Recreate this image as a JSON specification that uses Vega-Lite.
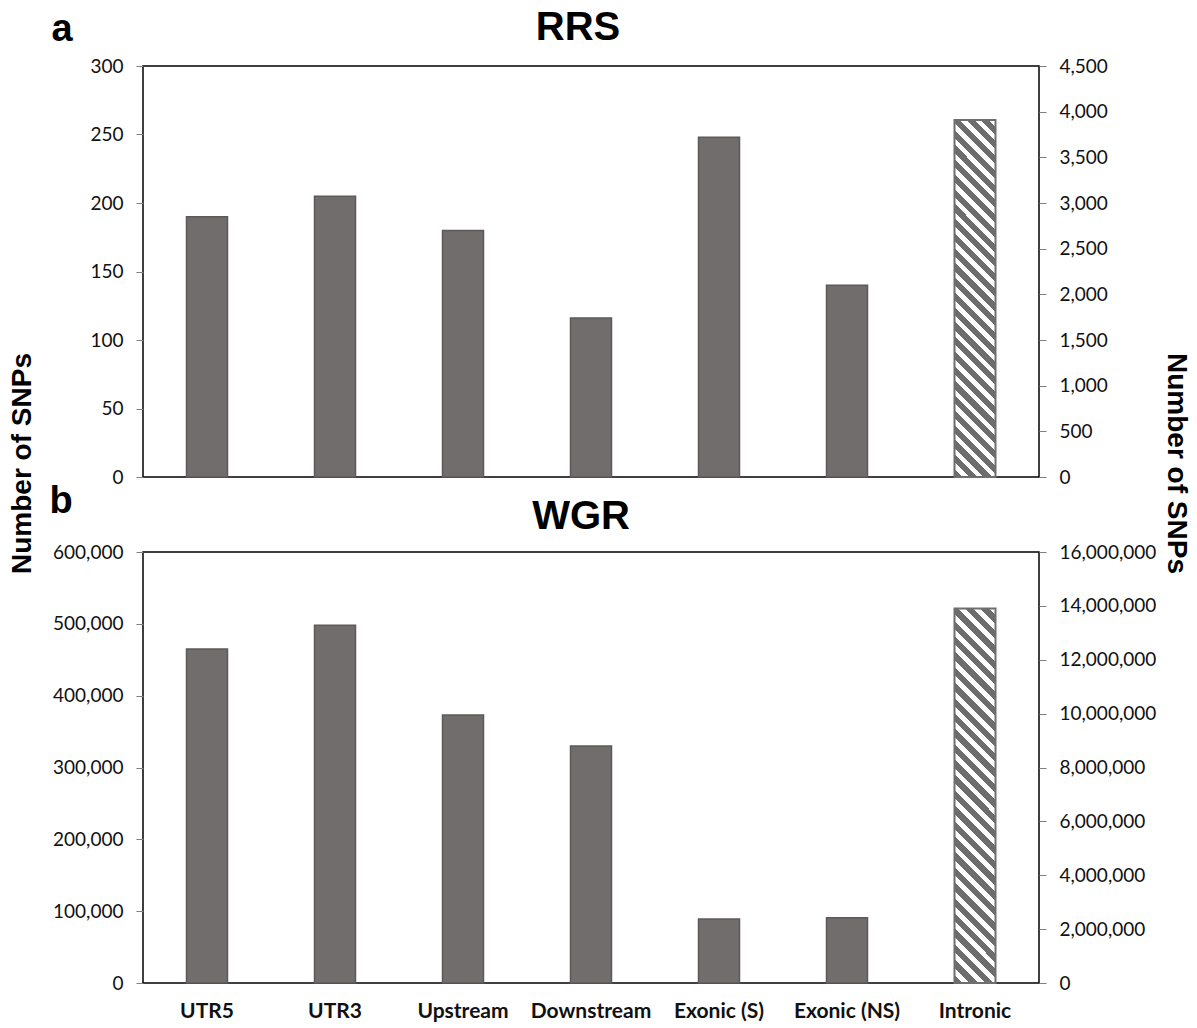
{
  "$schema": "https://vega.github.io/schema/vega-lite/v6.json",
  "background": "white",
  "padding": {"left": 7, "top": 7, "right": 5, "bottom": 5},
  "bounds": "flush",
  "spacing": 75,
  "config": {
    "view": {"stroke": "#000000", "strokeWidth": 1.5},
    "axis": {"labelFont": "Lato", "labelFontSize": 19, "labelColor": "#111111", "tickColor": "#808080", "tickSize": 7, "domain": false, "grid": false, "titleFont": "Liberation Sans", "titleFontWeight": "bold", "titleColor": "#000000"}
  },
  "datasets": {
    "rrs": [
      {"category": "UTR5", "value": 190},
      {"category": "UTR3", "value": 205},
      {"category": "Upstream", "value": 180},
      {"category": "Downstream", "value": 116},
      {"category": "Exonic (S)", "value": 248},
      {"category": "Exonic (NS)", "value": 140},
      {"category": "Intronic", "value": 3910}
    ],
    "wgr": [
      {"category": "UTR5", "value": 465000},
      {"category": "UTR3", "value": 498000},
      {"category": "Upstream", "value": 373000},
      {"category": "Downstream", "value": 330000},
      {"category": "Exonic (S)", "value": 89000},
      {"category": "Exonic (NS)", "value": 91000},
      {"category": "Intronic", "value": 13900000}
    ]
  },
  "vconcat": [
    {
      "width": 896,
      "height": 411,
      "title": {"text": "RRS", "font": "Liberation Sans", "fontSize": 40, "fontWeight": "bold", "anchor": "middle", "baseline": "alphabetic", "offset": 24, "dy": 94, "dx": -13, "color": "#000000"},
      "data": {"name": "rrs"},
      "encoding": {
        "x": {"field": "category", "type": "nominal", "sort": null,
          "scale": {"domain": ["UTR5", "UTR3", "Upstream", "Downstream", "Exonic (S)", "Exonic (NS)", "Intronic"], "paddingInner": 0, "paddingOuter": 0},
          "axis": {"labels": false, "ticks": false, "title": "a", "titleX": -92, "titleY": -437, "titleAlign": "left", "titleBaseline": "alphabetic", "titleFontSize": 38, "titleAngle": 0}}
      },
      "layer": [
        {
          "transform": [{"filter": "datum.category !== 'Intronic'"}],
          "mark": {"type": "bar", "width": 41, "fill": "#716d6c", "stroke": "#5d5a59", "strokeWidth": 1.5},
          "encoding": {
            "y": {"field": "value", "type": "quantitative", "scale": {"domain": [0, 300], "nice": false},
              "axis": {"orient": "left", "values": [0, 50, 100, 150, 200, 250, 300], "format": ",.0f", "labelPadding": 13, "title": "Number of SNPs", "titleAngle": -90, "titleX": -113, "titleY": 397, "titleAlign": "center", "titleBaseline": "alphabetic", "titleFontSize": 28}}
          }
        },
        {
          "transform": [{"filter": "datum.category === 'Intronic'"}],
          "mark": {"type": "bar", "width": 41, "stroke": "#6e6e6e", "strokeWidth": 2,
            "fill": {"gradient": "linear", "x1": 0, "y1": 1, "x2": 0.1264, "y2": -0.1003, "stops": [
              {"offset": 0, "color": "#6d6d6d"}, {"offset": 0.0204, "color": "#6d6d6d"}, {"offset": 0.0204, "color": "#ffffff"}, {"offset": 0.037, "color": "#ffffff"},
              {"offset": 0.037, "color": "#6d6d6d"}, {"offset": 0.0574, "color": "#6d6d6d"}, {"offset": 0.0574, "color": "#ffffff"}, {"offset": 0.0741, "color": "#ffffff"},
              {"offset": 0.0741, "color": "#6d6d6d"}, {"offset": 0.0944, "color": "#6d6d6d"}, {"offset": 0.0944, "color": "#ffffff"}, {"offset": 0.1111, "color": "#ffffff"},
              {"offset": 0.1111, "color": "#6d6d6d"}, {"offset": 0.1315, "color": "#6d6d6d"}, {"offset": 0.1315, "color": "#ffffff"}, {"offset": 0.1481, "color": "#ffffff"},
              {"offset": 0.1481, "color": "#6d6d6d"}, {"offset": 0.1685, "color": "#6d6d6d"}, {"offset": 0.1685, "color": "#ffffff"}, {"offset": 0.1852, "color": "#ffffff"},
              {"offset": 0.1852, "color": "#6d6d6d"}, {"offset": 0.2056, "color": "#6d6d6d"}, {"offset": 0.2056, "color": "#ffffff"}, {"offset": 0.2222, "color": "#ffffff"},
              {"offset": 0.2222, "color": "#6d6d6d"}, {"offset": 0.2426, "color": "#6d6d6d"}, {"offset": 0.2426, "color": "#ffffff"}, {"offset": 0.2593, "color": "#ffffff"},
              {"offset": 0.2593, "color": "#6d6d6d"}, {"offset": 0.2796, "color": "#6d6d6d"}, {"offset": 0.2796, "color": "#ffffff"}, {"offset": 0.2963, "color": "#ffffff"},
              {"offset": 0.2963, "color": "#6d6d6d"}, {"offset": 0.3167, "color": "#6d6d6d"}, {"offset": 0.3167, "color": "#ffffff"}, {"offset": 0.3333, "color": "#ffffff"},
              {"offset": 0.3333, "color": "#6d6d6d"}, {"offset": 0.3537, "color": "#6d6d6d"}, {"offset": 0.3537, "color": "#ffffff"}, {"offset": 0.3704, "color": "#ffffff"},
              {"offset": 0.3704, "color": "#6d6d6d"}, {"offset": 0.3907, "color": "#6d6d6d"}, {"offset": 0.3907, "color": "#ffffff"}, {"offset": 0.4074, "color": "#ffffff"},
              {"offset": 0.4074, "color": "#6d6d6d"}, {"offset": 0.4278, "color": "#6d6d6d"}, {"offset": 0.4278, "color": "#ffffff"}, {"offset": 0.4444, "color": "#ffffff"},
              {"offset": 0.4444, "color": "#6d6d6d"}, {"offset": 0.4648, "color": "#6d6d6d"}, {"offset": 0.4648, "color": "#ffffff"}, {"offset": 0.4815, "color": "#ffffff"},
              {"offset": 0.4815, "color": "#6d6d6d"}, {"offset": 0.5019, "color": "#6d6d6d"}, {"offset": 0.5019, "color": "#ffffff"}, {"offset": 0.5185, "color": "#ffffff"},
              {"offset": 0.5185, "color": "#6d6d6d"}, {"offset": 0.5389, "color": "#6d6d6d"}, {"offset": 0.5389, "color": "#ffffff"}, {"offset": 0.5556, "color": "#ffffff"},
              {"offset": 0.5556, "color": "#6d6d6d"}, {"offset": 0.5759, "color": "#6d6d6d"}, {"offset": 0.5759, "color": "#ffffff"}, {"offset": 0.5926, "color": "#ffffff"},
              {"offset": 0.5926, "color": "#6d6d6d"}, {"offset": 0.613, "color": "#6d6d6d"}, {"offset": 0.613, "color": "#ffffff"}, {"offset": 0.6296, "color": "#ffffff"},
              {"offset": 0.6296, "color": "#6d6d6d"}, {"offset": 0.65, "color": "#6d6d6d"}, {"offset": 0.65, "color": "#ffffff"}, {"offset": 0.6667, "color": "#ffffff"},
              {"offset": 0.6667, "color": "#6d6d6d"}, {"offset": 0.687, "color": "#6d6d6d"}, {"offset": 0.687, "color": "#ffffff"}, {"offset": 0.7037, "color": "#ffffff"},
              {"offset": 0.7037, "color": "#6d6d6d"}, {"offset": 0.7241, "color": "#6d6d6d"}, {"offset": 0.7241, "color": "#ffffff"}, {"offset": 0.7407, "color": "#ffffff"},
              {"offset": 0.7407, "color": "#6d6d6d"}, {"offset": 0.7611, "color": "#6d6d6d"}, {"offset": 0.7611, "color": "#ffffff"}, {"offset": 0.7778, "color": "#ffffff"},
              {"offset": 0.7778, "color": "#6d6d6d"}, {"offset": 0.7981, "color": "#6d6d6d"}, {"offset": 0.7981, "color": "#ffffff"}, {"offset": 0.8148, "color": "#ffffff"},
              {"offset": 0.8148, "color": "#6d6d6d"}, {"offset": 0.8352, "color": "#6d6d6d"}, {"offset": 0.8352, "color": "#ffffff"}, {"offset": 0.8519, "color": "#ffffff"},
              {"offset": 0.8519, "color": "#6d6d6d"}, {"offset": 0.8722, "color": "#6d6d6d"}, {"offset": 0.8722, "color": "#ffffff"}, {"offset": 0.8889, "color": "#ffffff"},
              {"offset": 0.8889, "color": "#6d6d6d"}, {"offset": 0.9093, "color": "#6d6d6d"}, {"offset": 0.9093, "color": "#ffffff"}, {"offset": 0.9259, "color": "#ffffff"},
              {"offset": 0.9259, "color": "#6d6d6d"}, {"offset": 0.9463, "color": "#6d6d6d"}, {"offset": 0.9463, "color": "#ffffff"}, {"offset": 0.963, "color": "#ffffff"},
              {"offset": 0.963, "color": "#6d6d6d"}, {"offset": 0.9833, "color": "#6d6d6d"}, {"offset": 0.9833, "color": "#ffffff"}, {"offset": 1, "color": "#ffffff"}
            ]}},
          "encoding": {
            "y": {"field": "value", "type": "quantitative", "scale": {"domain": [0, 4500], "nice": false},
              "axis": {"orient": "right", "values": [0, 500, 1000, 1500, 2000, 2500, 3000, 3500, 4000, 4500], "format": ",.0f", "labelPadding": 13, "title": "Number of SNPs", "titleAngle": 90, "titleX": 128, "titleY": 397, "titleAlign": "center", "titleBaseline": "alphabetic", "titleFontSize": 28}}
          }
        }
      ],
      "resolve": {"scale": {"y": "independent"}}
    },
    {
      "width": 896,
      "height": 431,
      "title": {"text": "WGR", "font": "Liberation Sans", "fontSize": 40, "fontWeight": "bold", "anchor": "middle", "baseline": "alphabetic", "offset": 20, "dy": 107, "dx": -10, "color": "#000000"},
      "data": {"name": "wgr"},
      "encoding": {
        "x": {"field": "category", "type": "nominal", "sort": null,
          "scale": {"domain": ["UTR5", "UTR3", "Upstream", "Downstream", "Exonic (S)", "Exonic (NS)", "Intronic"], "paddingInner": 0, "paddingOuter": 0},
          "axis": {"labels": true, "ticks": false, "labelAngle": 0, "labelFont": "Lato", "labelFontWeight": "bold", "labelFontSize": 21, "labelPadding": 17, "labelColor": "#111111", "title": "b", "titleX": -94, "titleY": -471, "titleAlign": "left", "titleBaseline": "alphabetic", "titleFontSize": 38, "titleAngle": 0}}
      },
      "layer": [
        {
          "transform": [{"filter": "datum.category !== 'Intronic'"}],
          "mark": {"type": "bar", "width": 41, "fill": "#716d6c", "stroke": "#5d5a59", "strokeWidth": 1.5},
          "encoding": {
            "y": {"field": "value", "type": "quantitative", "scale": {"domain": [0, 600000], "nice": false},
              "axis": {"orient": "left", "values": [0, 100000, 200000, 300000, 400000, 500000, 600000], "format": ",.0f", "labelPadding": 13, "title": null}}
          }
        },
        {
          "transform": [{"filter": "datum.category === 'Intronic'"}],
          "mark": {"type": "bar", "width": 41, "stroke": "#6e6e6e", "strokeWidth": 2,
            "fill": {"gradient": "linear", "x1": 0, "y1": 1, "x2": 0.1202, "y2": -0.0965, "stops": [
              {"offset": 0, "color": "#6d6d6d"}, {"offset": 0.0204, "color": "#6d6d6d"}, {"offset": 0.0204, "color": "#ffffff"}, {"offset": 0.037, "color": "#ffffff"},
              {"offset": 0.037, "color": "#6d6d6d"}, {"offset": 0.0574, "color": "#6d6d6d"}, {"offset": 0.0574, "color": "#ffffff"}, {"offset": 0.0741, "color": "#ffffff"},
              {"offset": 0.0741, "color": "#6d6d6d"}, {"offset": 0.0944, "color": "#6d6d6d"}, {"offset": 0.0944, "color": "#ffffff"}, {"offset": 0.1111, "color": "#ffffff"},
              {"offset": 0.1111, "color": "#6d6d6d"}, {"offset": 0.1315, "color": "#6d6d6d"}, {"offset": 0.1315, "color": "#ffffff"}, {"offset": 0.1481, "color": "#ffffff"},
              {"offset": 0.1481, "color": "#6d6d6d"}, {"offset": 0.1685, "color": "#6d6d6d"}, {"offset": 0.1685, "color": "#ffffff"}, {"offset": 0.1852, "color": "#ffffff"},
              {"offset": 0.1852, "color": "#6d6d6d"}, {"offset": 0.2056, "color": "#6d6d6d"}, {"offset": 0.2056, "color": "#ffffff"}, {"offset": 0.2222, "color": "#ffffff"},
              {"offset": 0.2222, "color": "#6d6d6d"}, {"offset": 0.2426, "color": "#6d6d6d"}, {"offset": 0.2426, "color": "#ffffff"}, {"offset": 0.2593, "color": "#ffffff"},
              {"offset": 0.2593, "color": "#6d6d6d"}, {"offset": 0.2796, "color": "#6d6d6d"}, {"offset": 0.2796, "color": "#ffffff"}, {"offset": 0.2963, "color": "#ffffff"},
              {"offset": 0.2963, "color": "#6d6d6d"}, {"offset": 0.3167, "color": "#6d6d6d"}, {"offset": 0.3167, "color": "#ffffff"}, {"offset": 0.3333, "color": "#ffffff"},
              {"offset": 0.3333, "color": "#6d6d6d"}, {"offset": 0.3537, "color": "#6d6d6d"}, {"offset": 0.3537, "color": "#ffffff"}, {"offset": 0.3704, "color": "#ffffff"},
              {"offset": 0.3704, "color": "#6d6d6d"}, {"offset": 0.3907, "color": "#6d6d6d"}, {"offset": 0.3907, "color": "#ffffff"}, {"offset": 0.4074, "color": "#ffffff"},
              {"offset": 0.4074, "color": "#6d6d6d"}, {"offset": 0.4278, "color": "#6d6d6d"}, {"offset": 0.4278, "color": "#ffffff"}, {"offset": 0.4444, "color": "#ffffff"},
              {"offset": 0.4444, "color": "#6d6d6d"}, {"offset": 0.4648, "color": "#6d6d6d"}, {"offset": 0.4648, "color": "#ffffff"}, {"offset": 0.4815, "color": "#ffffff"},
              {"offset": 0.4815, "color": "#6d6d6d"}, {"offset": 0.5019, "color": "#6d6d6d"}, {"offset": 0.5019, "color": "#ffffff"}, {"offset": 0.5185, "color": "#ffffff"},
              {"offset": 0.5185, "color": "#6d6d6d"}, {"offset": 0.5389, "color": "#6d6d6d"}, {"offset": 0.5389, "color": "#ffffff"}, {"offset": 0.5556, "color": "#ffffff"},
              {"offset": 0.5556, "color": "#6d6d6d"}, {"offset": 0.5759, "color": "#6d6d6d"}, {"offset": 0.5759, "color": "#ffffff"}, {"offset": 0.5926, "color": "#ffffff"},
              {"offset": 0.5926, "color": "#6d6d6d"}, {"offset": 0.613, "color": "#6d6d6d"}, {"offset": 0.613, "color": "#ffffff"}, {"offset": 0.6296, "color": "#ffffff"},
              {"offset": 0.6296, "color": "#6d6d6d"}, {"offset": 0.65, "color": "#6d6d6d"}, {"offset": 0.65, "color": "#ffffff"}, {"offset": 0.6667, "color": "#ffffff"},
              {"offset": 0.6667, "color": "#6d6d6d"}, {"offset": 0.687, "color": "#6d6d6d"}, {"offset": 0.687, "color": "#ffffff"}, {"offset": 0.7037, "color": "#ffffff"},
              {"offset": 0.7037, "color": "#6d6d6d"}, {"offset": 0.7241, "color": "#6d6d6d"}, {"offset": 0.7241, "color": "#ffffff"}, {"offset": 0.7407, "color": "#ffffff"},
              {"offset": 0.7407, "color": "#6d6d6d"}, {"offset": 0.7611, "color": "#6d6d6d"}, {"offset": 0.7611, "color": "#ffffff"}, {"offset": 0.7778, "color": "#ffffff"},
              {"offset": 0.7778, "color": "#6d6d6d"}, {"offset": 0.7981, "color": "#6d6d6d"}, {"offset": 0.7981, "color": "#ffffff"}, {"offset": 0.8148, "color": "#ffffff"},
              {"offset": 0.8148, "color": "#6d6d6d"}, {"offset": 0.8352, "color": "#6d6d6d"}, {"offset": 0.8352, "color": "#ffffff"}, {"offset": 0.8519, "color": "#ffffff"},
              {"offset": 0.8519, "color": "#6d6d6d"}, {"offset": 0.8722, "color": "#6d6d6d"}, {"offset": 0.8722, "color": "#ffffff"}, {"offset": 0.8889, "color": "#ffffff"},
              {"offset": 0.8889, "color": "#6d6d6d"}, {"offset": 0.9093, "color": "#6d6d6d"}, {"offset": 0.9093, "color": "#ffffff"}, {"offset": 0.9259, "color": "#ffffff"},
              {"offset": 0.9259, "color": "#6d6d6d"}, {"offset": 0.9463, "color": "#6d6d6d"}, {"offset": 0.9463, "color": "#ffffff"}, {"offset": 0.963, "color": "#ffffff"},
              {"offset": 0.963, "color": "#6d6d6d"}, {"offset": 0.9833, "color": "#6d6d6d"}, {"offset": 0.9833, "color": "#ffffff"}, {"offset": 1, "color": "#ffffff"}
            ]}},
          "encoding": {
            "y": {"field": "value", "type": "quantitative", "scale": {"domain": [0, 16000000], "nice": false},
              "axis": {"orient": "right", "values": [0, 2000000, 4000000, 6000000, 8000000, 10000000, 12000000, 14000000, 16000000], "format": ",.0f", "labelPadding": 13, "title": null}}
          }
        }
      ],
      "resolve": {"scale": {"y": "independent"}}
    }
  ]
}
